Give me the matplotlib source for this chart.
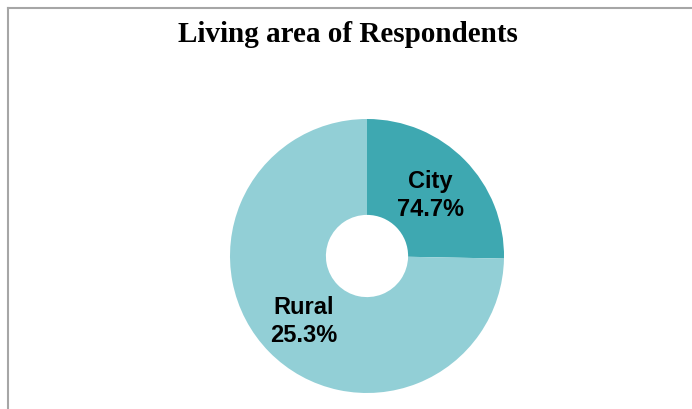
import matplotlib
matplotlib.use("Agg")
from matplotlib import pyplot as plt
from matplotlib.lines import Line2D

"""
Donut chart of where the respondents live.
"""

categories = ["City", "Rural"]
# ring shares, going clockwise from 12 o'clock
wedge_shares = [25.3, 74.7]
# percentage text printed on each ring segment
pct_labels = ["74.7%", "25.3%"]
colors = ["#3ea8b1", "#92cfd6"]

W, H = 692, 410
fig = plt.figure(figsize=(W / 100, H / 100), dpi=100)

# ring centred at (367, 257) px with a 137 px radius
cx, cy, r = 367, 257, 137
ax = fig.add_axes([(cx - r) / W, (H - cy - r) / H, 2 * r / W, 2 * r / H])
ax.pie(wedge_shares, colors=colors, startangle=90, counterclock=False, radius=1,
       wedgeprops=dict(width=0.7, linewidth=0))
ax.set_xlim(-1, 1)
ax.set_ylim(-1, 1)
ax.set_aspect("equal")
ax.axis("off")

label_pos = [(0.46, 0.45), (-0.46, -0.47)]
for name, pct, (x, y) in zip(categories, pct_labels, label_pos):
    ax.text(x, y, name + "\n" + pct, ha="center", va="center", fontsize=17,
            fontweight="bold", family="Liberation Sans", linespacing=1.3, color="black")

fig.text(348 / W, 1 - 35 / H, "Living area of Respondents", ha="center", va="center",
         fontsize=21, fontweight="bold", family="Liberation Serif")

# chart border (only top and left edges fall inside the image)
frame = dict(color="#a6a6a6", linewidth=1.5, transform=fig.transFigure)
fig.add_artist(Line2D([8 / W, 1], [1 - 9 / H, 1 - 9 / H], **frame))
fig.add_artist(Line2D([8 / W, 8 / W], [0, 1 - 9 / H], **frame))

fig.savefig("out.png", dpi=100)
